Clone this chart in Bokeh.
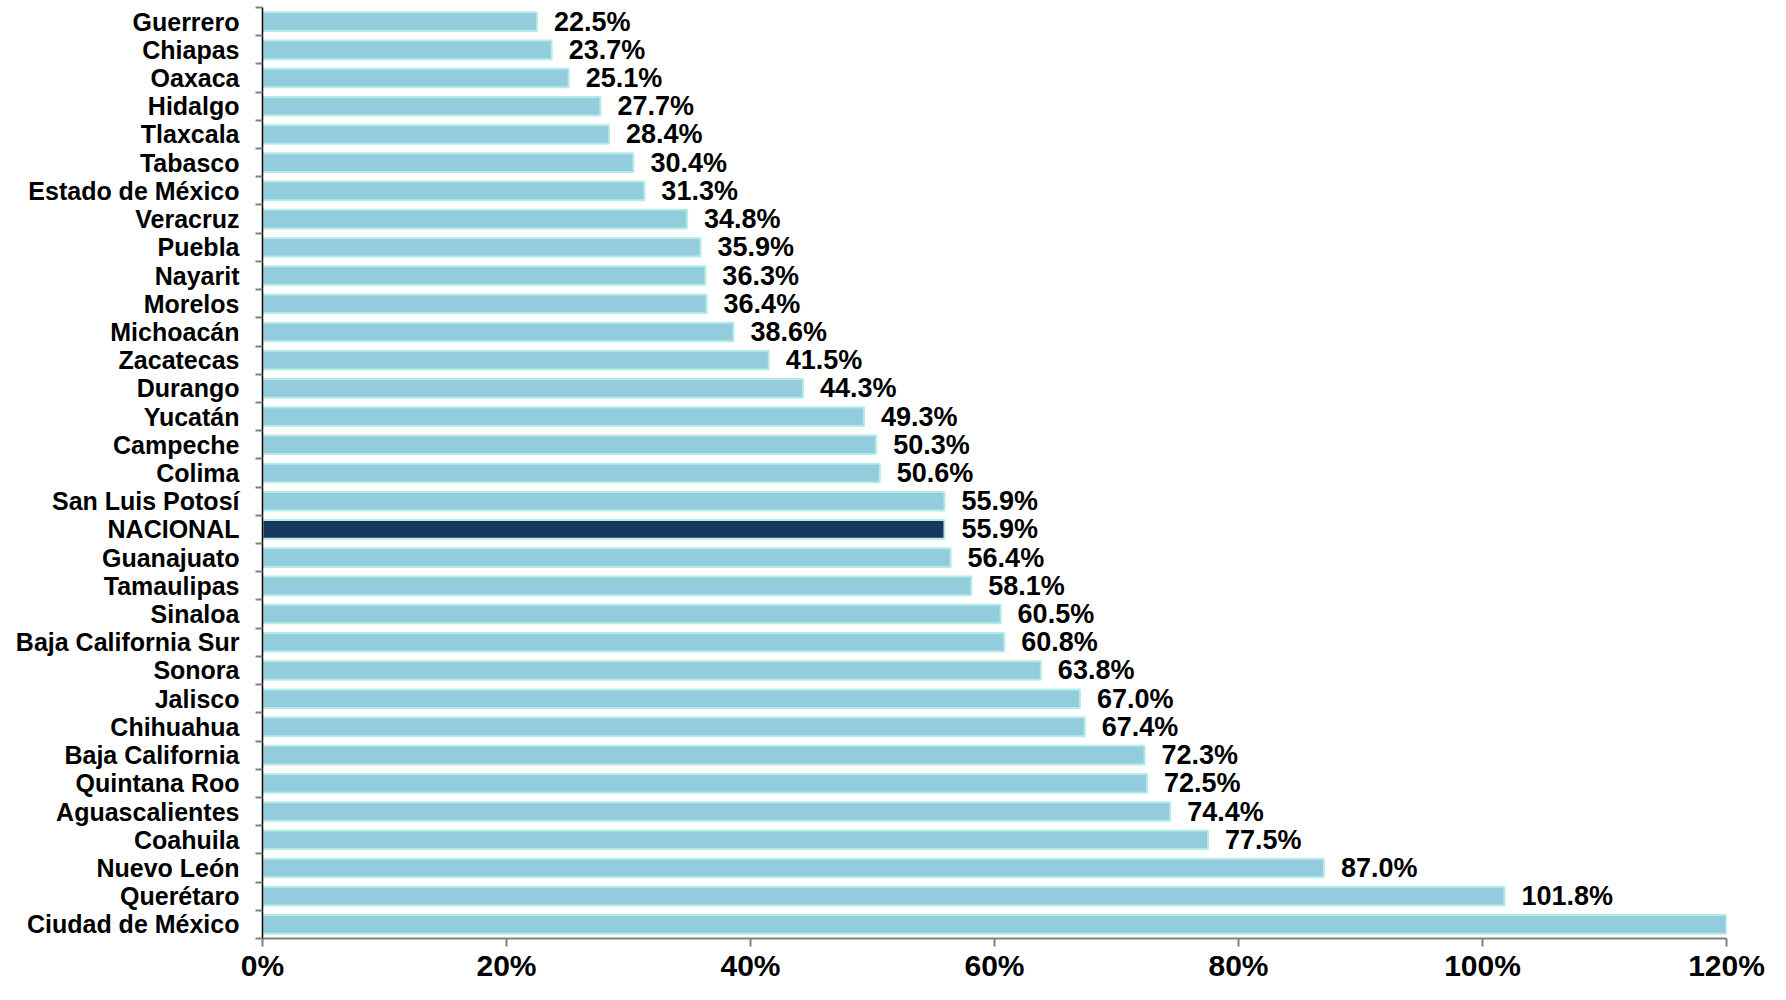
from bokeh.plotting import figure
from bokeh.models import Range1d, FixedTicker, PrintfTickFormatter, ColumnDataSource
from bokeh.core.properties import value
from bokeh.embed import file_html
from bokeh.resources import INLINE

states = ["Guerrero", "Chiapas", "Oaxaca", "Hidalgo", "Tlaxcala", "Tabasco",
          "Estado de México", "Veracruz", "Puebla", "Nayarit", "Morelos",
          "Michoacán", "Zacatecas", "Durango", "Yucatán", "Campeche", "Colima",
          "San Luis Potosí", "NACIONAL", "Guanajuato", "Tamaulipas", "Sinaloa",
          "Baja California Sur", "Sonora", "Jalisco", "Chihuahua",
          "Baja California", "Quintana Roo", "Aguascalientes", "Coahuila",
          "Nuevo León", "Querétaro", "Ciudad de México"]
values = [22.5, 23.7, 25.1, 27.7, 28.4, 30.4, 31.3, 34.8, 35.9, 36.3, 36.4,
          38.6, 41.5, 44.3, 49.3, 50.3, 50.6, 55.9, 55.9, 56.4, 58.1, 60.5,
          60.8, 63.8, 67.0, 67.4, 72.3, 72.5, 74.4, 77.5, 87.0, 101.8, 120.0]
x_ticks = [0, 20, 40, 60, 80, 100, 120]
x_max = 120

BAR = "#93CDDD"
NAT = "#17375E"
EDGE = "#B6EBE5"

pos = list(range(len(states)))
colors = [NAT if s == "NACIONAL" else BAR for s in states]
src = ColumnDataSource(dict(y=pos, v=values, c=colors))

lab_pos = [p_ for p_, v in zip(pos, values) if v < x_max]
lab_v = [v for v in values if v < x_max]
lab_t = [f"{v:.1f}%" for v in lab_v]
lsrc = ColumnDataSource(dict(y=lab_pos, v=lab_v, t=lab_t))

n = len(states)
p = figure(width=1770, height=984, output_backend="svg", toolbar_location=None,
           x_range=Range1d(0, x_max), y_range=Range1d(n - 0.5, -0.5),
           min_border_left=262, min_border_right=44, min_border_top=7,
           min_border_bottom=10)
p.outline_line_color = None
p.background_fill_color = "white"
p.border_fill_color = "white"
p.xgrid.visible = False
p.ygrid.visible = False

p.hbar(y="y", left=0, right="v", height=0.66, fill_color="c",
       line_color=EDGE, line_width=2, source=src)

p.text(x="v", y="y", text="t", source=lsrc, x_offset=17,
       text_baseline="middle", text_align="left",
       text_font=value("Liberation Sans"), text_font_style="bold",
       text_font_size="27px", text_color="black")

# y axis: labels at centres, tick marks at boundaries
ya = p.yaxis[0]
ya.ticker = FixedTicker(ticks=pos, minor_ticks=[i - 0.5 for i in range(n + 1)])
ya.major_label_overrides = {i: s for i, s in enumerate(states)}
ya.major_tick_line_color = None
ya.minor_tick_line_color = "#808080"
ya.minor_tick_line_width = 2
ya.minor_tick_out = 7
ya.minor_tick_in = 0
ya.axis_line_color = "black"
ya.axis_line_width = 1.5
ya.major_label_text_font = "Liberation Sans"
ya.major_label_text_font_style = "bold"
ya.major_label_text_font_size = "25px"
ya.major_label_text_color = "black"
ya.major_label_standoff = 16

xa = p.xaxis[0]
xa.ticker = FixedTicker(ticks=x_ticks, minor_ticks=[])
xa.formatter = PrintfTickFormatter(format="%d%%")
xa.major_tick_line_color = "#808080"
xa.major_tick_line_width = 2
xa.major_tick_out = 8
xa.major_tick_in = 0
xa.minor_tick_line_color = None
xa.axis_line_color = "#808080"
xa.axis_line_width = 2
xa.major_label_text_font = "Liberation Sans"
xa.major_label_text_font_style = "bold"
xa.major_label_text_font_size = "30px"
xa.major_label_text_color = "black"
xa.major_label_standoff = 2

open("out.html", "w").write(file_html(p, INLINE))
